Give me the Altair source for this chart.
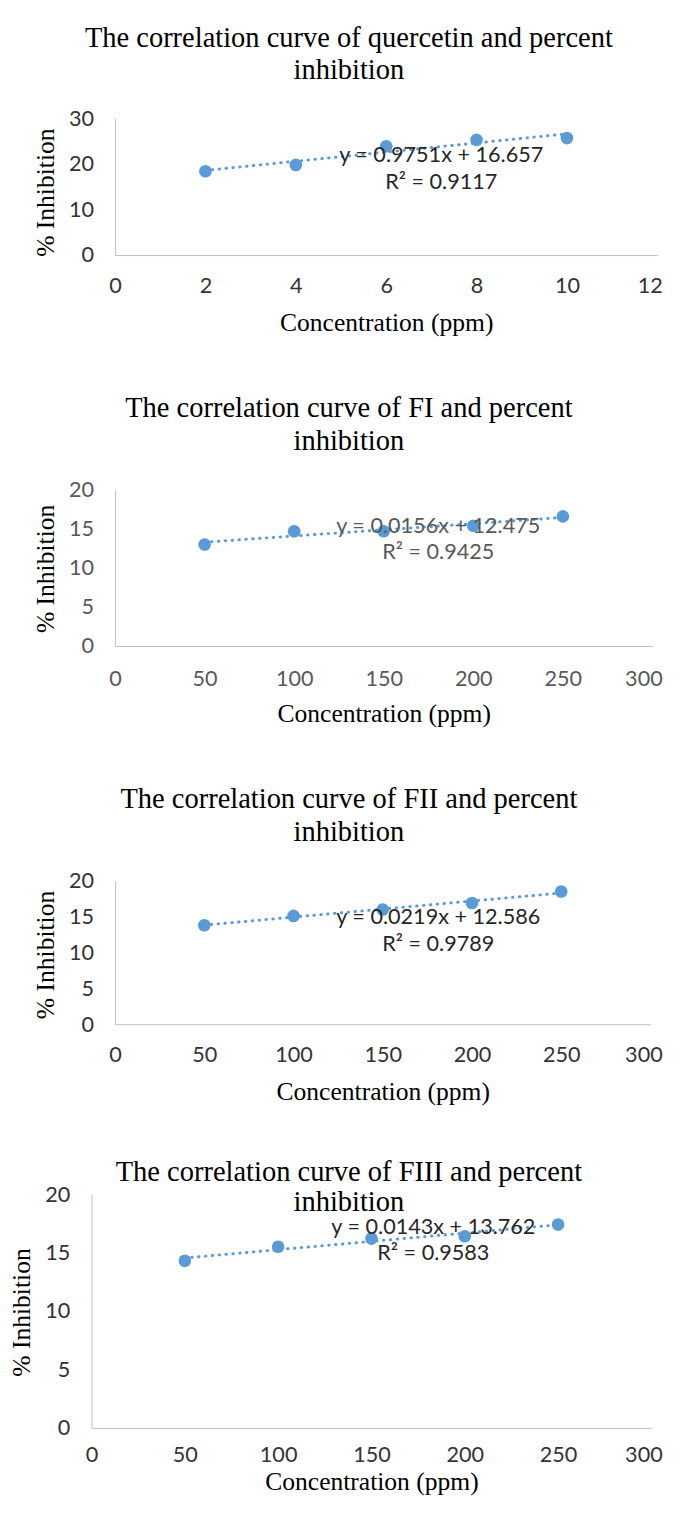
import altair as alt
import pandas as pd

# ---- data ----
CONC_Q = [2, 4, 6, 8, 10]
INH_Q = [18.4, 19.8, 23.9, 25.3, 25.7]

CONC_F = [50, 100, 150, 200, 250]
INH_FI = [13.0, 14.7, 14.7, 15.4, 16.6]
INH_FII = [13.8, 15.1, 16.0, 16.9, 18.5]
INH_FIII = [14.3, 15.5, 16.2, 16.4, 17.4]

TITLES = [
    ["The correlation curve of quercetin and percent", "inhibition"],
    ["The correlation curve of FI and percent", "inhibition"],
    ["The correlation curve of FII and percent", "inhibition"],
    ["The correlation curve of FIII and percent", "inhibition"],
]
EQUATIONS = [
    "y = 0.9751x + 16.657",
    "y = 0.0156x + 12.475",
    "y = 0.0219x + 12.586",
    "y = 0.0143x + 13.762",
]
R2 = ["R² = 0.9117", "R² = 0.9425", "R² = 0.9789", "R² = 0.9583"]

X_TICKS_Q = [0, 2, 4, 6, 8, 10, 12]
X_TICKS_F = [0, 50, 100, 150, 200, 250, 300]
Y_TICKS_Q = [0, 10, 20, 30]
Y_TICKS_F = [0, 5, 10, 15, 20]

X_TITLE = "Concentration (ppm)"
Y_TITLE = "% Inhibition"

BLUE = "#5B9BD5"
SERIF = "Liberation Serif"
SANS = "Lato"

# all plot areas share the left edge; panel 4 extends its x range / y axis further left
LAYOUT = [
    dict(w=552, h=139, shift=0, left=-109, top=-99, bottom=253, tx=238, ty=(-82, -49),
         ex=332, ey=37, ry=65, lab="#333333", eqc="#262626", xlp=31, xty=69, ytx=-71, yty=75,
         lastoff=5),
    dict(w=547, h=159, shift=0, left=-109, top=-125, bottom=275, tx=238, ty=(-83, -50),
         ex=329, ey=37, ry=63, lab="#595959", eqc="#595959", xlp=33, xty=69, ytx=-71, yty=80,
         lastoff=10),
    dict(w=545, h=146, shift=0, left=-109, top=-123, bottom=277, tx=238, ty=(-83, -50),
         ex=329, ey=37, ry=64, lab="#333333", eqc="#262626", xlp=31, xty=69, ytx=-71, yty=75,
         lastoff=12),
    dict(w=546, h=238, shift=24, left=-109, top=-42, bottom=295, tx=238, ty=(-22, 8),
         ex=324, ey=34, ry=60, lab="#333333", eqc="#262626", xlp=27, xty=55, ytx=-71, yty=120,
         lastoff=11),
]


def panel(conc, inh, xticks, yticks, title, eq, r2, L):
    df = pd.DataFrame({"conc": conc, "inh": inh})
    xs = alt.Scale(domain=[xticks[0], xticks[-1]], nice=False, range=[-L["shift"], L["w"]])
    ys = alt.Scale(domain=[yticks[0], yticks[-1]], nice=False)
    test = f"datum.value == {xticks[-1]}"
    last_align = {"condition": {"test": test, "value": "right"}, "value": "center"}
    last_off = {"condition": {"test": test, "value": L["lastoff"]}, "value": 0}
    xax = alt.Axis(values=xticks, title=X_TITLE, grid=False, ticks=False, tickSize=0,
                   domainColor="#BFBFBF", domainWidth=1, labelFlush=False,
                   labelFont=SANS, labelFontSize=22, labelColor=L["lab"],
                   labelPadding=L["xlp"], labelBaseline="middle",
                   labelAlign=last_align, labelOffset=last_off,
                   titleFont=SERIF, titleFontSize=26, titleFontWeight="normal",
                   titleColor="black", titleY=L["xty"], titleBaseline="middle")
    yax = alt.Axis(values=yticks, title=Y_TITLE, grid=False, ticks=False, tickSize=0,
                   domainColor="#BFBFBF", domainWidth=1, offset=L["shift"],
                   labelFont=SANS, labelFontSize=22, labelColor=L["lab"],
                   labelPadding=22,
                   titleFont=SERIF, titleFontSize=26, titleFontWeight="normal",
                   titleColor="black", titleX=L["ytx"], titleY=L["yty"],
                   titleBaseline="middle", titleAlign="center", titleAngle=270)

    base = alt.Chart(df)
    trend = base.transform_regression("conc", "inh").mark_line(
        color=BLUE, strokeWidth=3, strokeDash=[0.5, 6.5], strokeCap="round"
    ).encode(x=alt.X("conc:Q", scale=xs, axis=xax), y=alt.Y("inh:Q", scale=ys, axis=yax))
    pts = base.mark_circle(size=165, color=BLUE, opacity=1).encode(
        x=alt.X("conc:Q", scale=xs, axis=xax), y=alt.Y("inh:Q", scale=ys, axis=yax))

    one = alt.Chart(pd.DataFrame({"k": [0]}))
    # invisible frame that fixes each panel's extent inside the column
    frame = one.mark_rect(color="white", opacity=0).encode(
        x=alt.value(L["left"]), x2=alt.value(L["w"] + L["lastoff"] + 1),
        y=alt.value(L["top"]), y2=alt.value(L["bottom"]))
    tstyle = dict(font=SERIF, fontSize=29, color="black", baseline="middle", align="center")
    t1 = one.mark_text(**tstyle).encode(
        x=alt.value(L["tx"]), y=alt.value(L["ty"][0]), text=alt.value(title[0]))
    t2 = one.mark_text(**tstyle).encode(
        x=alt.value(L["tx"]), y=alt.value(L["ty"][1]), text=alt.value(title[1]))
    estyle = dict(font=SANS, fontSize=22, color=L["eqc"], baseline="middle", align="center")
    e1 = one.mark_text(**estyle).encode(
        x=alt.value(L["ex"]), y=alt.value(L["ey"]), text=alt.value(eq))
    e2 = one.mark_text(**estyle).encode(
        x=alt.value(L["ex"]), y=alt.value(L["ry"]), text=alt.value(r2))

    return alt.layer(frame, trend, pts, t1, t2, e1, e2).properties(width=L["w"], height=L["h"])


panels = [
    panel(CONC_Q, INH_Q, X_TICKS_Q, Y_TICKS_Q, TITLES[0], EQUATIONS[0], R2[0], LAYOUT[0]),
    panel(CONC_F, INH_FI, X_TICKS_F, Y_TICKS_F, TITLES[1], EQUATIONS[1], R2[1], LAYOUT[1]),
    panel(CONC_F, INH_FII, X_TICKS_F, Y_TICKS_F, TITLES[2], EQUATIONS[2], R2[2], LAYOUT[2]),
    panel(CONC_F, INH_FIII, X_TICKS_F, Y_TICKS_F, TITLES[3], EQUATIONS[3], R2[3], LAYOUT[3]),
]

chart = alt.vconcat(*panels, spacing=0).properties(
    padding=0, background="white").configure_view(stroke=None)

chart.save("out.html", embed_options={"renderer": "svg", "actions": False})
